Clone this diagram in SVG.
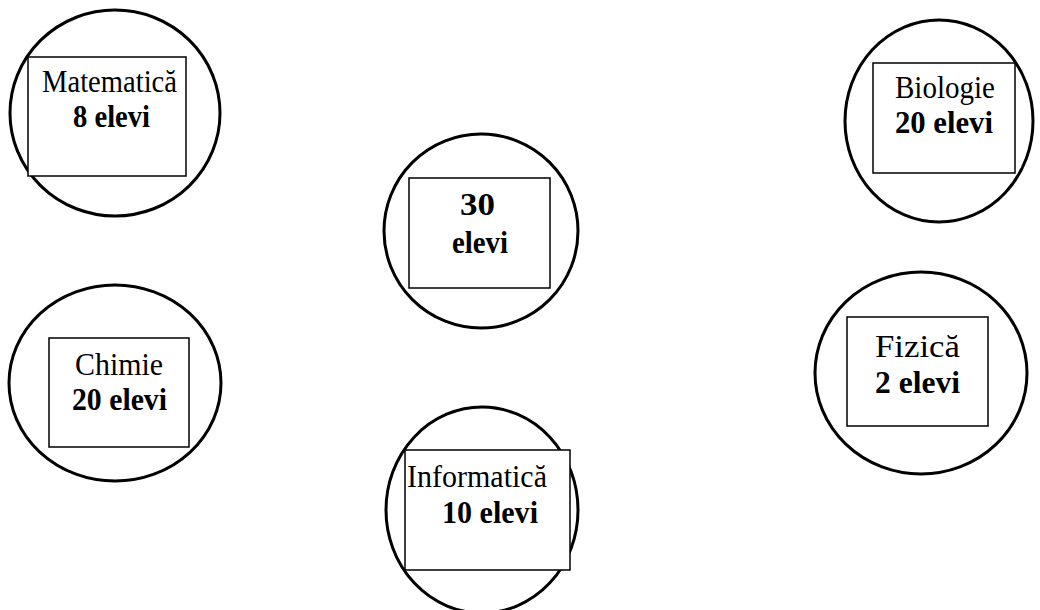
<svg xmlns="http://www.w3.org/2000/svg" width="1040" height="610" viewBox="0 0 1040 610">
<style>
.c{fill:none;stroke:#000;stroke-width:3}
.r{fill:#fff;stroke:#000;stroke-width:1.5}
.t{font-family:"Liberation Serif","Times New Roman",serif;font-size:31px;fill:#000}
.b{font-weight:bold}
</style>
<rect width="1040" height="610" fill="#fff"/>
<g id="connectors"></g>
<g id="matematica">
<ellipse class="c" cx="115" cy="113" rx="105" ry="103"/>
<rect class="r" x="28" y="57" width="158" height="119"/>
<text class="t" x="42" y="92" textLength="135" lengthAdjust="spacingAndGlyphs">Matematică</text>
<text class="t b" x="73" y="127" textLength="77" lengthAdjust="spacingAndGlyphs">8 elevi</text>
</g>
<g id="total">
<ellipse class="c" cx="481" cy="231" rx="97" ry="97"/>
<rect class="r" x="409" y="178" width="141" height="110"/>
<text class="t b" x="460" y="215" textLength="35" lengthAdjust="spacingAndGlyphs">30</text>
<text class="t b" x="452" y="253" textLength="56" lengthAdjust="spacingAndGlyphs">elevi</text>
</g>
<g id="biologie">
<ellipse class="c" cx="939" cy="121" rx="94" ry="101"/>
<rect class="r" x="873" y="63" width="142" height="110"/>
<text class="t" x="895" y="98" textLength="100" lengthAdjust="spacingAndGlyphs">Biologie</text>
<text class="t b" x="895" y="133" textLength="98" lengthAdjust="spacingAndGlyphs">20 elevi</text>
</g>
<g id="chimie">
<ellipse class="c" cx="115" cy="383" rx="106" ry="98"/>
<rect class="r" x="49" y="338" width="140" height="109"/>
<text class="t" x="75" y="375" textLength="88" lengthAdjust="spacingAndGlyphs">Chimie</text>
<text class="t b" x="72" y="410" textLength="95" lengthAdjust="spacingAndGlyphs">20 elevi</text>
</g>
<g id="informatica">
<ellipse class="c" cx="482" cy="510" rx="96" ry="103"/>
<rect class="r" x="405" y="450" width="165" height="120"/>
<text class="t" x="407" y="487" textLength="140" lengthAdjust="spacingAndGlyphs">Informatică</text>
<text class="t b" x="442" y="523" textLength="96" lengthAdjust="spacingAndGlyphs">10 elevi</text>
</g>
<g id="fizica">
<ellipse class="c" cx="921" cy="373" rx="106" ry="101"/>
<rect class="r" x="847" y="317" width="141" height="109"/>
<text class="t" x="875" y="357" textLength="85" lengthAdjust="spacingAndGlyphs">Fizică</text>
<text class="t b" x="875" y="393" textLength="85" lengthAdjust="spacingAndGlyphs">2 elevi</text>
</g>
</svg>
